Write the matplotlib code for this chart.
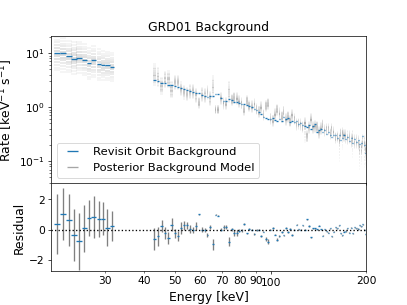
import numpy as np
import matplotlib
matplotlib.use("Agg")
import matplotlib.pyplot as plt
from matplotlib.ticker import ScalarFormatter

# ---- data ----
# bin centres [keV], low band (below the gap) and high band
energy_low = [21.2, 22.1, 23.1, 24.0, 24.9, 25.9, 26.8, 27.7, 28.8, 29.7, 30.6, 31.6]
energy_high = [43.0, 44.1, 45.3, 46.4, 47.6, 48.7, 49.9, 51.0, 52.2, 53.3,
               54.5, 55.5, 56.8, 58.0, 59.3, 60.6, 62.0, 63.2, 64.4, 65.7,
               67.0, 68.3, 69.6, 71.0, 72.4, 73.8, 75.3, 76.7, 78.2, 79.4,
               80.9, 82.6, 84.1, 85.6, 87.1, 88.8, 90.3, 91.8, 93.2, 94.8,
               96.4, 98.1, 99.8, 101.5, 103.0, 104.7, 106.5, 108.3, 109.9, 111.5,
               113.4, 115.1, 116.8, 118.7, 120.6, 122.3, 124.2, 126.0, 128.1, 130.0,
               131.9, 133.9, 135.8, 137.8, 139.9, 141.9, 144.0, 145.8, 147.9, 150.1,
               151.9, 153.8, 155.7, 157.9, 160.2, 162.1, 164.2, 166.2, 168.1, 170.2,
               172.4, 174.4, 176.9, 179.1, 181.3, 184.0, 186.1, 188.5, 190.8, 193.1,
               195.1, 196.9, 199.4]

# revisit orbit background rate [keV^-1 s^-1]
rate_low = [10.1, 9.97, 9.0, 7.7, 8.05, 7.6, 6.6, 7.3, 6.3, 6.05, 5.9, 5.6]
rate_high = [3.2, 3.0, 2.85, 2.8, 2.6, 2.55, 2.5, 2.4, 2.3, 2.2,
             2.05, 1.95, 1.9, 1.85, 1.85, 1.7, 1.6, 1.55, 1.62, 1.6,
             1.75, 1.72, 1.45, 1.31, 1.3, 1.41, 1.38, 1.25, 1.22, 1.2,
             1.15, 1.14, 1.1, 1.06, 1.02, 0.92, 0.9, 0.82, 0.75, 0.66,
             0.62, 0.6, 0.61, 0.64, 0.57, 0.55, 0.6, 0.56, 0.66, 0.6,
             0.62, 0.53, 0.56, 0.52, 0.55, 0.48, 0.5, 0.46, 0.45, 0.42,
             0.47, 0.4, 0.44, 0.48, 0.35, 0.37, 0.39, 0.34, 0.37, 0.32,
             0.35, 0.31, 0.28, 0.3, 0.31, 0.27, 0.3, 0.25, 0.27, 0.3,
             0.26, 0.28, 0.24, 0.27, 0.22, 0.26, 0.23, 0.25, 0.205, 0.22,
             0.29, 0.2, 0.14]

# posterior background model: median rate and spread (dex)
model_low = [9.8, 9.3, 8.6, 8.1, 8.4, 7.5, 6.4, 6.9, 6.1, 5.9, 5.8, 5.5]
model_high = [4.0, 3.6, 2.47, 3.27, 3.3, 2.1, 2.9, 2.9, 2.17, 1.9,
              1.75, 1.92, 1.95, 1.65, 1.2, 1.7, 1.64, 1.9, 1.45, 2.4,
              0.9, 0.9, 1.45, 1.17, 1.16, 1.9, 1.36, 1.48, 1.44, 1.27,
              1.18, 0.89, 1.3, 1.05, 1.02, 1.12, 0.92, 0.82, 0.98, 0.72,
              1.05, 1.15, 0.61, 0.56, 0.73, 0.89, 0.76, 0.66, 0.82, 0.59,
              0.66, 0.55, 0.7, 0.6, 0.48, 0.49, 0.48, 0.43, 0.5, 0.29,
              0.42, 0.59, 0.42, 0.44, 0.43, 0.34, 0.4, 0.47, 0.37, 0.39,
              0.39, 0.32, 0.39, 0.34, 0.27, 0.28, 0.25, 0.32, 0.33, 0.3,
              0.29, 0.27, 0.28, 0.24, 0.27, 0.23, 0.23, 0.22, 0.18, 0.18,
              0.23, 0.22, 0.17]
spread_low = [0.13, 0.13, 0.12, 0.12, 0.12, 0.12, 0.12, 0.12, 0.12, 0.11, 0.11, 0.11]
spread_high = [0.08, 0.07, 0.06, 0.06, 0.06, 0.06, 0.05, 0.05, 0.05, 0.05,
               0.05, 0.05, 0.05, 0.05, 0.04, 0.05, 0.05, 0.05, 0.05, 0.08,
               0.03, 0.03, 0.04, 0.04, 0.04, 0.08, 0.04, 0.04, 0.04, 0.04,
               0.04, 0.04, 0.04, 0.04, 0.04, 0.04, 0.04, 0.04, 0.04, 0.04,
               0.04, 0.04, 0.04, 0.04, 0.04, 0.04, 0.04, 0.04, 0.04, 0.04,
               0.04, 0.04, 0.04, 0.04, 0.04, 0.04, 0.04, 0.04, 0.04, 0.04,
               0.04, 0.04, 0.04, 0.04, 0.04, 0.04, 0.04, 0.04, 0.04, 0.04,
               0.04, 0.04, 0.04, 0.04, 0.04, 0.04, 0.04, 0.04, 0.04, 0.04,
               0.05, 0.05, 0.05, 0.05, 0.05, 0.05, 0.05, 0.05, 0.05, 0.05,
               0.05, 0.05, 0.05]
# bins where posterior samples trail far below the median
tail_energy = [128.1, 164.2, 168.1, 181.3, 190.8, 193.1, 196.9, 199.4]
tail_dex = [0.35, 0.4, 0.3, 0.35, 0.4, 0.3, 0.45, 0.3]

# residuals and their errors
resid_low = [0.37, 1.04, 0.63, -0.37, -0.78, 0.07, 0.76, 0.85, 0.72, 0.72, 0.13, 0.22]
resid_high = [-0.63, -0.46, 0.22, -0.24, -0.54, 0.33, -0.26, -0.43, 0.09, 0.28,
              0.28, 0.02, -0.04, 0.22, 1.0, 0.0, -0.04, -0.35, 0.17, -0.98,
              0.98, 0.91, 0.0, 0.17, 0.17, -0.8, 0.02, -0.26, -0.26, -0.09,
              -0.04, 0.39, -0.26, 0.02, 0.0, -0.3, -0.04, 0.0, -0.41, -0.13,
              -0.63, -0.8, 0.0, 0.11, -0.33, -0.67, -0.41, -0.15, -0.39, 0.09,
              -0.15, 0.04, -0.37, 0.0, 0.33, 0.02, 0.0, 0.28, 0.0, 0.67,
              0.24, -0.52, 0.09, 0.09, 0.02, 0.26, 0.02, -0.41, 0.02, -0.11,
              -0.2, 0.07, -0.46, -0.15, 0.15, 0.07, 0.28, -0.24, -0.37, -0.13,
              -0.11, 0.07, -0.2, 0.13, -0.24, 0.15, 0.09, 0.04, 0.28, 0.22,
              0.35, -0.02, -0.3]
resid_err_low = [2.0, 1.7, 1.75, 1.7, 1.9, 1.55, 1.2, 1.4, 1.2, 1.1, 1.2, 1.0]
resid_err_high = [0.75, 0.6, 0.4, 0.4, 0.4, 0.4, 0.3, 0.35, 0.4, 0.3,
                  0.25, 0.25, 0.2, 0.25, 0.04, 0.15, 0.12, 0.15, 0.12, 0.35,
                  0.03, 0.03, 0.08, 0.15, 0.15, 0.3, 0.1, 0.2, 0.2, 0.1,
                  0.1, 0.06, 0.06, 0.05, 0.05, 0.06, 0.05, 0.05, 0.06, 0.05,
                  0.12, 0.15, 0.05, 0.05, 0.06, 0.08, 0.06, 0.05, 0.05, 0.05,
                  0.05, 0.05, 0.05, 0.04, 0.04, 0.04, 0.04, 0.04, 0.04, 0.05,
                  0.04, 0.04, 0.04, 0.04, 0.04, 0.04, 0.04, 0.04, 0.04, 0.04,
                  0.04, 0.04, 0.04, 0.04, 0.04, 0.04, 0.04, 0.04, 0.04, 0.04,
                  0.04, 0.04, 0.04, 0.04, 0.04, 0.04, 0.04, 0.04, 0.04, 0.04,
                  0.04, 0.04, 0.04]

# ---- combine bands ----
energy = np.array(energy_low + energy_high)
# low band bins touch, high band bins are drawn a bit narrower (gaps as in the original)
half_width = np.concatenate([np.gradient(energy_low) / 2, np.gradient(energy_high) / 2 * 0.7])
rate = np.array(rate_low + rate_high)
model = np.array(model_low + model_high)
spread = np.array(spread_low + spread_high)
resid = np.array(resid_low + resid_high)
resid_err = np.array(resid_err_low + resid_err_high)

plt.rcParams.update({
    "font.size": 12,
    "axes.labelsize": 14,
    "axes.titlesize": 14,
    "legend.fontsize": 13,
})

fig, (ax1, ax2) = plt.subplots(2, 1, figsize=(6.4, 4.8), sharex=True,
                               gridspec_kw={"height_ratios": [5, 3], "hspace": 0})

# posterior cloud: stacked faint steps around the median
for k in np.linspace(-2.4, 2.4, 13):
    ax1.hlines(model * 10 ** (k * spread), energy - half_width, energy + half_width,
               color="gray", alpha=0.07 + 0.22 * np.exp(-k * k / 2), lw=2)
for e, d in zip(tail_energy, tail_dex):
    i = np.argmin(np.abs(energy - e))
    for k in np.linspace(0, 1, 8):
        ax1.hlines(model[i] * 10 ** (-k * d), energy[i] - half_width[i], energy[i] + half_width[i],
                   color="gray", alpha=0.22 * (1 - 0.8 * k), lw=2)

ax1.errorbar(energy, rate, xerr=half_width, fmt="none", ecolor="C0", elinewidth=1.5,
             label="Revisit Orbit Background")
ax1.errorbar([], [], xerr=[], fmt="none", ecolor="gray", alpha=0.7, elinewidth=1.5,
             label="Posterior Background Model")

ax1.set_xscale("log")
ax1.set_yscale("log")
ax1.set_xlim(20.3, 200)
ax1.set_ylim(0.039, 20.4)
ax1.set_ylabel("Rate [keV$^{-1}$ s$^{-1}$]")
ax1.set_title("GRD01 Background")
ax1.legend(loc="lower left")

# residual panel
ax2.errorbar(energy, resid, yerr=resid_err, fmt="none", ecolor="gray", elinewidth=1.5)
ax2.errorbar(energy, resid, xerr=half_width, fmt="none", ecolor="C0", elinewidth=1.5)
ax2.axhline(0, color="k", ls=":", lw=1.5)
ax2.set_ylim(-2.77, 3.06)
ax2.set_yticks([-2, 0, 2])
ax2.set_ylabel("Residual")
ax2.set_xlabel("Energy [keV]")
ax2.xaxis.set_major_formatter(ScalarFormatter())
ax2.xaxis.set_minor_formatter(ScalarFormatter())

fig.savefig("out.png", dpi=63.6)
